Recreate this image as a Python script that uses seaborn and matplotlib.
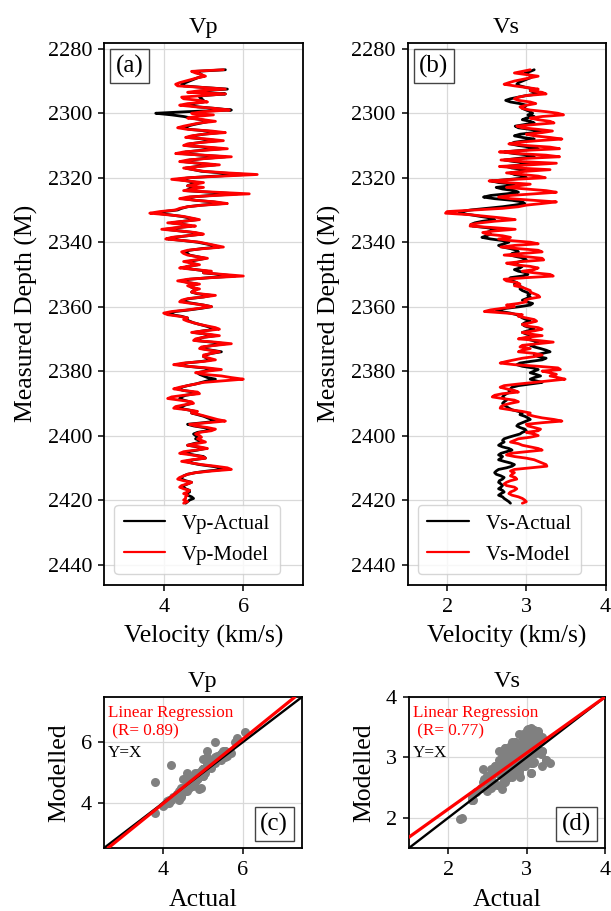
import numpy as np
import pandas as pd
import matplotlib
matplotlib.use("Agg")
import matplotlib.pyplot as plt
import seaborn as sns

# ---------------- well-log data (0.5 m sampling) ----------------
depth_start, depth_step = 2286.5, 0.5

vp_actual = [
    5.55, 4.8, 4.85, 4.95, 5.0, 4.85, 4.75, 4.65, 4.55, 4.45,
    4.5, 5.0, 5.6, 5.0, 4.75, 5.55, 5.0, 4.9, 4.95, 5.0,
    5.0, 4.75, 4.6, 4.85, 5.3, 5.7, 4.6, 3.8, 4.2, 4.5,
    4.7, 4.95, 5.15, 4.95, 4.75, 4.6, 4.5, 4.65, 5.1, 5.4,
    5.0, 4.75, 4.6, 5.0, 5.35, 4.95, 4.65, 4.55, 5.0, 5.45,
    4.95, 4.55, 4.45, 4.95, 5.55, 5.05, 4.65, 4.5, 4.85, 5.3,
    4.85, 4.55, 4.75, 4.95, 5.45, 6.05, 5.3, 4.65, 4.35, 4.6,
    4.85, 4.7, 4.6, 4.8, 4.65, 4.55, 5.15, 5.85, 5.2, 4.65,
    4.5, 4.8, 5.25, 5.5, 4.95, 4.6, 4.45, 4.35, 4.0, 3.8,
    4.15, 4.45, 4.65, 4.85, 4.5, 4.2, 4.5, 4.7, 4.35, 4.05,
    4.4, 4.75, 4.95, 4.6, 4.25, 4.1, 4.5, 4.85, 5.05, 5.25,
    5.4, 4.95, 4.65, 4.55, 4.6, 4.65, 4.85, 5.05, 4.85, 4.6,
    4.7, 4.85, 4.6, 4.5, 4.8, 5.1, 5.0, 5.4, 5.8, 5.15,
    4.65, 4.45, 4.6, 4.85, 4.65, 4.7, 4.85, 4.75, 4.7, 4.85,
    5.2, 5.0, 4.65, 4.5, 4.5, 4.75, 5.0, 5.2, 4.95, 4.65,
    4.3, 4.15, 4.2, 4.45, 4.6, 4.55, 4.65, 4.75, 4.9, 5.05,
    5.2, 5.3, 5.0, 4.75, 5.05, 5.3, 5.0, 4.85, 4.8, 5.2,
    5.55, 5.25, 5.0, 4.95, 5.2, 5.45, 5.2, 5.05, 5.0, 5.1,
    5.2, 4.95, 4.55, 4.35, 4.6, 5.0, 5.3, 5.05, 4.85, 4.9,
    5.0, 5.1, 5.3, 5.1, 4.95, 4.8, 4.6, 4.45, 4.35, 4.5,
    4.75, 4.8, 4.55, 4.45, 4.4, 4.5, 4.65, 4.7, 4.55, 4.45,
    4.4, 4.6, 4.8, 4.7, 4.85, 5.0, 5.1, 5.2, 5.35, 5.0,
    4.6, 4.75, 5.0, 5.2, 5.1, 4.85, 4.75, 4.8, 4.85, 4.8,
    4.9, 4.95, 4.75, 4.6, 4.85, 5.05, 4.85, 4.6, 4.55, 4.75,
    5.0, 5.05, 4.75, 4.55, 4.7, 4.9, 5.2, 5.45, 5.5, 5.1,
    4.8, 4.6, 4.5, 4.45, 4.45, 4.55, 4.7, 4.6, 4.5, 4.5,
    4.55, 4.65, 4.65, 4.55, 4.6, 4.7, 4.75, 4.65, 4.6, 4.55,
]

vp_model = [
    5.5, 4.7, 4.8, 4.95, 5.05, 4.85, 4.7, 4.55, 4.4, 4.3,
    4.35, 5.0, 5.55, 4.9, 4.6, 5.55, 5.0, 4.45, 4.5, 4.9,
    5.1, 4.6, 4.4, 4.8, 5.3, 5.65, 5.0, 4.7, 5.25, 4.8,
    4.6, 5.0, 5.3, 4.9, 4.7, 4.5, 4.35, 4.6, 5.2, 5.55,
    5.0, 4.7, 4.55, 5.1, 5.5, 5.0, 4.6, 4.5, 5.1, 5.6,
    5.0, 4.5, 4.3, 5.0, 5.7, 5.1, 4.6, 4.4, 4.9, 5.4,
    4.9, 4.5, 4.75, 5.0, 5.6, 6.35, 5.5, 4.6, 4.2, 4.6,
    5.0, 4.8, 4.6, 5.0, 4.75, 4.5, 5.3, 6.15, 5.3, 4.6,
    4.4, 4.8, 5.3, 5.6, 5.0, 4.6, 4.4, 4.3, 3.9, 3.65,
    4.1, 4.5, 4.7, 4.9, 4.5, 4.1, 4.5, 4.8, 4.3, 3.95,
    4.4, 4.8, 5.0, 4.6, 4.2, 4.05, 4.5, 4.9, 5.1, 5.3,
    5.5, 5.0, 4.6, 4.45, 4.5, 4.6, 4.85, 5.1, 4.8, 4.5,
    4.7, 4.9, 4.6, 4.4, 4.8, 5.2, 5.0, 5.5, 6.0, 5.2,
    4.6, 4.35, 4.6, 4.9, 4.6, 4.7, 4.9, 4.75, 4.7, 4.9,
    5.3, 5.0, 4.6, 4.45, 4.4, 4.7, 5.0, 5.2, 4.9, 4.6,
    4.2, 4.0, 4.1, 4.4, 4.6, 4.5, 4.6, 4.75, 4.9, 5.1,
    5.3, 5.4, 5.0, 4.7, 5.1, 5.4, 5.0, 4.8, 4.75, 5.3,
    5.7, 5.3, 4.95, 4.9, 5.15, 5.4, 5.2, 5.0, 5.0, 5.15,
    5.3, 5.0, 4.5, 4.25, 4.6, 5.1, 5.45, 5.1, 4.8, 5.0,
    5.45, 5.7, 6.0, 5.5, 5.0, 4.8, 4.6, 4.4, 4.25, 4.5,
    4.85, 4.9, 4.5, 4.2, 4.1, 4.4, 4.7, 4.75, 4.5, 4.3,
    4.25, 4.6, 4.85, 4.7, 4.9, 5.05, 5.2, 5.35, 5.55, 5.1,
    4.65, 4.8, 5.1, 5.3, 5.2, 4.9, 4.8, 4.9, 4.95, 4.85,
    4.95, 5.05, 4.8, 4.6, 4.9, 5.1, 4.8, 4.5, 4.4, 4.7,
    4.95, 5.05, 4.7, 4.45, 4.7, 4.95, 5.3, 5.6, 5.7, 5.2,
    4.8, 4.6, 4.5, 4.4, 4.35, 4.5, 4.7, 4.6, 4.45, 4.4,
    4.5, 4.65, 4.6, 4.5, 4.6, 4.55, 4.55, 4.5, 4.6, 4.5,
]

vs_actual = [
    3.1, 3.05, 2.98, 3.02, 3.08, 3.05, 3.0, 2.95, 2.9, 2.88,
    2.92, 3.0, 3.1, 3.05, 3.1, 3.15, 3.0, 2.9, 2.8, 2.74,
    2.8, 2.92, 3.0, 2.98, 2.95, 3.0, 3.05, 3.08, 3.02, 3.1,
    3.0, 2.95, 3.05, 3.1, 2.98, 2.86, 2.9, 3.05, 3.2, 3.1,
    2.92, 2.85, 2.95, 3.1, 3.0, 2.85, 2.8, 2.9, 3.05, 3.15,
    2.95, 2.72, 2.85, 3.05, 3.1, 2.9, 2.72, 2.85, 3.05, 2.95,
    2.75, 2.82, 3.0, 2.95, 2.8, 2.85, 2.98, 3.0, 2.8, 2.56,
    2.65, 2.85, 2.8, 2.62, 2.7, 2.85, 2.9, 2.75, 2.55, 2.46,
    2.6, 2.82, 2.95, 2.98, 2.85, 2.7, 2.5, 2.3, 2.18, 2.15,
    2.3, 2.42, 2.55, 2.6, 2.45, 2.35, 2.3, 2.32, 2.5, 2.62,
    2.55, 2.5, 2.55, 2.5, 2.44, 2.55, 2.7, 2.78, 2.72, 2.65,
    2.7, 2.8, 2.88, 2.9, 2.82, 2.8, 2.88, 2.98, 3.0, 2.92,
    2.85, 2.88, 2.95, 2.92, 2.85, 2.9, 3.0, 3.02, 2.95, 2.8,
    2.78, 2.82, 2.88, 2.85, 2.9, 2.95, 2.92, 2.95, 3.0, 3.05,
    3.02, 3.05, 3.0, 2.95, 3.0, 3.08, 3.05, 2.92, 2.75, 2.62,
    2.68, 2.8, 2.88, 2.92, 2.95, 3.0, 3.05, 2.98, 2.95, 2.98,
    3.05, 3.1, 3.02, 2.95, 3.0, 3.08, 3.05, 3.0, 3.08, 3.15,
    3.12, 3.05, 3.1, 3.18, 3.25, 3.3, 3.2, 3.1, 3.15, 3.25,
    3.2, 3.05, 2.92, 2.88, 2.95, 3.08, 3.15, 3.1, 3.05, 3.12,
    3.18, 3.1, 3.05, 3.12, 3.2, 3.05, 2.9, 2.82, 2.8, 2.78,
    2.8, 2.75, 2.72, 2.7, 2.72, 2.75, 2.72, 2.7, 2.72, 2.75,
    2.78, 2.82, 2.9, 2.95, 2.92, 2.98, 3.02, 3.05, 3.0, 2.95,
    2.9, 2.88, 2.92, 2.98, 3.0, 2.95, 2.92, 2.85, 2.78, 2.72,
    2.7, 2.72, 2.68, 2.65, 2.7, 2.78, 2.82, 2.75, 2.68, 2.65,
    2.7, 2.68, 2.65, 2.72, 2.8, 2.85, 2.82, 2.75, 2.65, 2.62,
    2.6, 2.62, 2.68, 2.72, 2.7, 2.66, 2.65, 2.68, 2.7, 2.68,
    2.65, 2.7, 2.72, 2.68, 2.65, 2.7, 2.72, 2.75, 2.78, 2.8,
]

vs_model = [
    3.05, 2.95, 2.85, 3.0, 3.15, 3.05, 2.95, 2.85, 2.78, 2.72,
    2.85, 3.0, 3.15, 3.05, 3.2, 3.25, 3.0, 2.9, 2.85, 2.9,
    3.05, 3.12, 3.0, 2.92, 2.95, 3.05, 3.25, 3.4, 3.47, 3.2,
    3.05, 3.15, 3.3, 3.35, 3.1, 2.88, 2.95, 3.15, 3.33, 3.2,
    3.0, 3.1, 3.3, 3.45, 3.15, 2.9, 2.78, 3.0, 3.3, 3.42,
    3.0, 2.66, 2.9, 3.25, 3.42, 3.0, 2.68, 2.95, 3.38, 3.05,
    2.66, 2.9, 3.3, 3.0, 2.75, 2.95, 3.15, 3.24, 2.85, 2.53,
    2.75, 3.05, 2.9, 2.75, 3.0, 3.25, 3.38, 3.1, 2.8, 2.65,
    2.8, 3.1, 3.38, 3.2, 3.0, 2.9, 2.7, 2.35, 2.0, 1.98,
    2.3, 2.5, 2.7, 2.86, 2.6, 2.42, 2.3, 2.29, 2.6, 2.86,
    2.6, 2.45, 2.5, 2.7, 2.8, 2.65, 2.8, 3.05, 3.15, 2.85,
    2.68, 2.9, 3.15, 3.2, 2.95, 2.72, 3.0, 3.2, 3.22, 2.95,
    2.75, 2.85, 3.05, 3.15, 3.1, 2.95, 3.1, 3.3, 3.34, 3.0,
    2.72, 2.75, 2.88, 2.92, 2.85, 2.95, 3.0, 3.05, 3.05, 3.1,
    3.15, 3.17, 3.05, 2.98, 3.0, 2.9, 2.75, 2.85, 2.7, 2.55,
    2.47, 2.75, 2.95, 2.9, 3.0, 3.1, 3.13, 3.05, 2.95, 3.0,
    3.15, 3.2, 3.1, 2.95, 3.05, 3.2, 3.0, 2.9, 3.15, 3.34,
    3.15, 2.95, 2.92, 3.05, 2.95, 2.9, 3.1, 3.2, 3.1, 2.95,
    2.85, 2.75, 2.67, 2.85, 3.15, 3.4, 3.43, 3.2, 3.3, 3.38,
    3.3, 3.4, 3.49, 3.3, 3.1, 2.9, 2.72, 2.67, 2.75, 2.85,
    2.9, 2.7, 2.6, 2.57, 2.7, 2.85, 2.9, 2.8, 2.72, 2.68,
    2.67, 2.8, 2.95, 3.05, 3.02, 3.1, 3.2, 3.35, 3.45, 3.2,
    3.0, 3.02, 3.1, 3.18, 3.15, 3.0, 3.1, 3.15, 3.05, 2.9,
    2.85, 2.8, 2.9, 2.95, 3.05, 3.15, 3.2, 3.0, 2.8, 2.75,
    2.85, 3.0, 3.1, 3.15, 3.2, 3.25, 3.26, 3.05, 2.85, 2.8,
    2.85, 2.82, 2.8, 2.86, 2.88, 2.8, 2.75, 2.72, 2.75, 2.85,
    2.88, 2.85, 2.8, 2.78, 2.82, 2.9, 2.95, 2.98, 3.0, 2.95,
]

# fitted regression lines (slope, intercept) and correlation coefficients
vp_fit = (1.06, -0.26)
vs_fit = (0.928, 0.288)
vp_r = 0.89
vs_r = 0.77

depth = depth_start + depth_step * np.arange(len(vp_model))
logs = pd.DataFrame({
    "depth": depth,
    "vp_actual": vp_actual, "vp_model": vp_model,
    "vs_actual": vs_actual, "vs_model": vs_model,
})

# ---------------- style ----------------
sns.set_theme(style="whitegrid", rc={
    "axes.edgecolor": "black",
    "axes.linewidth": 1.3,
    "grid.color": "#d9d9d9",
    "grid.linewidth": 0.9,
    "xtick.bottom": True,
    "ytick.left": True,
    "xtick.color": "black",
    "ytick.color": "black",
    "xtick.major.size": 4.5,
    "ytick.major.size": 4.5,
    "xtick.major.width": 1.1,
    "ytick.major.width": 1.1,
    "xtick.major.pad": 5,
    "ytick.major.pad": 4,
    "xtick.labelsize": 16,
    "ytick.labelsize": 16,
    "axes.labelsize": 18.5,
    "axes.titlesize": 17.5,
    "text.color": "black",
    "axes.labelcolor": "black",
})
plt.rcParams["font.family"] = ["Liberation Serif", "DejaVu Serif"]

W, H = 611, 911
fig = plt.figure(figsize=(W / 100, H / 100), dpi=100)


def px_axes(left, top, right, bottom):
    return fig.add_axes([left / W, 1 - bottom / H, (right - left) / W, (bottom - top) / H])


ax_a = px_axes(104, 43, 303, 584.5)
ax_b = px_axes(407.5, 43, 605.5, 584.5)
ax_c = px_axes(104, 697, 302, 848)
ax_d = px_axes(409, 697, 605, 848)


def panel_tag(ax, text, corner):
    box = dict(boxstyle="square,pad=0.22", facecolor="white", edgecolor="#444444", linewidth=1.0)
    if corner == "ul":
        ax.annotate(text, xy=(0, 1), xycoords="axes fraction", xytext=(8.5, -8.5),
                    textcoords="offset points", ha="left", va="top", fontsize=18,
                    bbox=box, zorder=10)
    else:
        ax.annotate(text, xy=(1, 0), xycoords="axes fraction", xytext=(-10, 9),
                    textcoords="offset points", ha="right", va="bottom", fontsize=18,
                    bbox=box, zorder=10)


def log_panel(ax, col, name, xlim, ticks, tag):
    sns.lineplot(data=logs, x=f"{col}_actual", y="depth", orient="y", sort=False,
                 estimator=None, color="black", linewidth=2.0, label=f"{name}-Actual", ax=ax)
    sns.lineplot(data=logs, x=f"{col}_model", y="depth", orient="y", sort=False,
                 estimator=None, color="red", linewidth=2.0, label=f"{name}-Model", ax=ax)
    ax.set_xlim(*xlim)
    ax.set_ylim(2446.2, 2278.2)
    ax.set_xticks(ticks)
    ax.set_yticks(np.arange(2280, 2441, 20))
    ax.set_title(name, pad=7)
    ax.set_xlabel("Velocity (km/s)", labelpad=6)
    ax.set_ylabel("Measured Depth (M)", labelpad=7)
    leg = ax.legend(loc="lower left", fontsize=15, frameon=True, edgecolor="#cccccc",
                    handlelength=2.0, borderaxespad=0.5, labelspacing=0.55, borderpad=0.45)
    for line in leg.get_lines():
        line.set_linewidth(1.6)
    panel_tag(ax, tag, "ul")


def cross_panel(ax, col, name, lim, ticks, fit, r, tag):
    sns.scatterplot(data=logs, x=f"{col}_actual", y=f"{col}_model", color="gray",
                    s=42, linewidth=0, ax=ax, zorder=2)
    ax.axline((lim[0], lim[0]), slope=1, color="black", linewidth=1.7, zorder=3)
    ax.axline((0, fit[1]), slope=fit[0], color="red", linewidth=2.3, zorder=4)
    ax.set_xlim(*lim)
    ax.set_ylim(*lim)
    ax.set_xticks(ticks)
    ax.set_yticks(ticks)
    ax.set_title(name, pad=7)
    ax.set_xlabel("Actual", labelpad=6)
    ax.set_ylabel("Modelled", labelpad=8)
    ax.text(0.02, 0.895, "Linear Regression", color="red", fontsize=12.3,
            transform=ax.transAxes, ha="left", va="center")
    ax.text(0.02, 0.77, f" (R= {r:.2f})", color="red", fontsize=12.3,
            transform=ax.transAxes, ha="left", va="center")
    ax.text(0.02, 0.63, "Y=X", color="black", fontsize=12.3,
            transform=ax.transAxes, ha="left", va="center")
    panel_tag(ax, tag, "lr")


log_panel(ax_a, "vp", "Vp", (2.5, 7.5), [4, 6], "(a)")
log_panel(ax_b, "vs", "Vs", (1.5, 4.0), [2, 3, 4], "(b)")
cross_panel(ax_c, "vp", "Vp", (2.5, 7.5), [4, 6], vp_fit, vp_r, "(c)")
cross_panel(ax_d, "vs", "Vs", (1.5, 4.0), [2, 3, 4], vs_fit, vs_r, "(d)")

fig.savefig("out.png", dpi=100)
